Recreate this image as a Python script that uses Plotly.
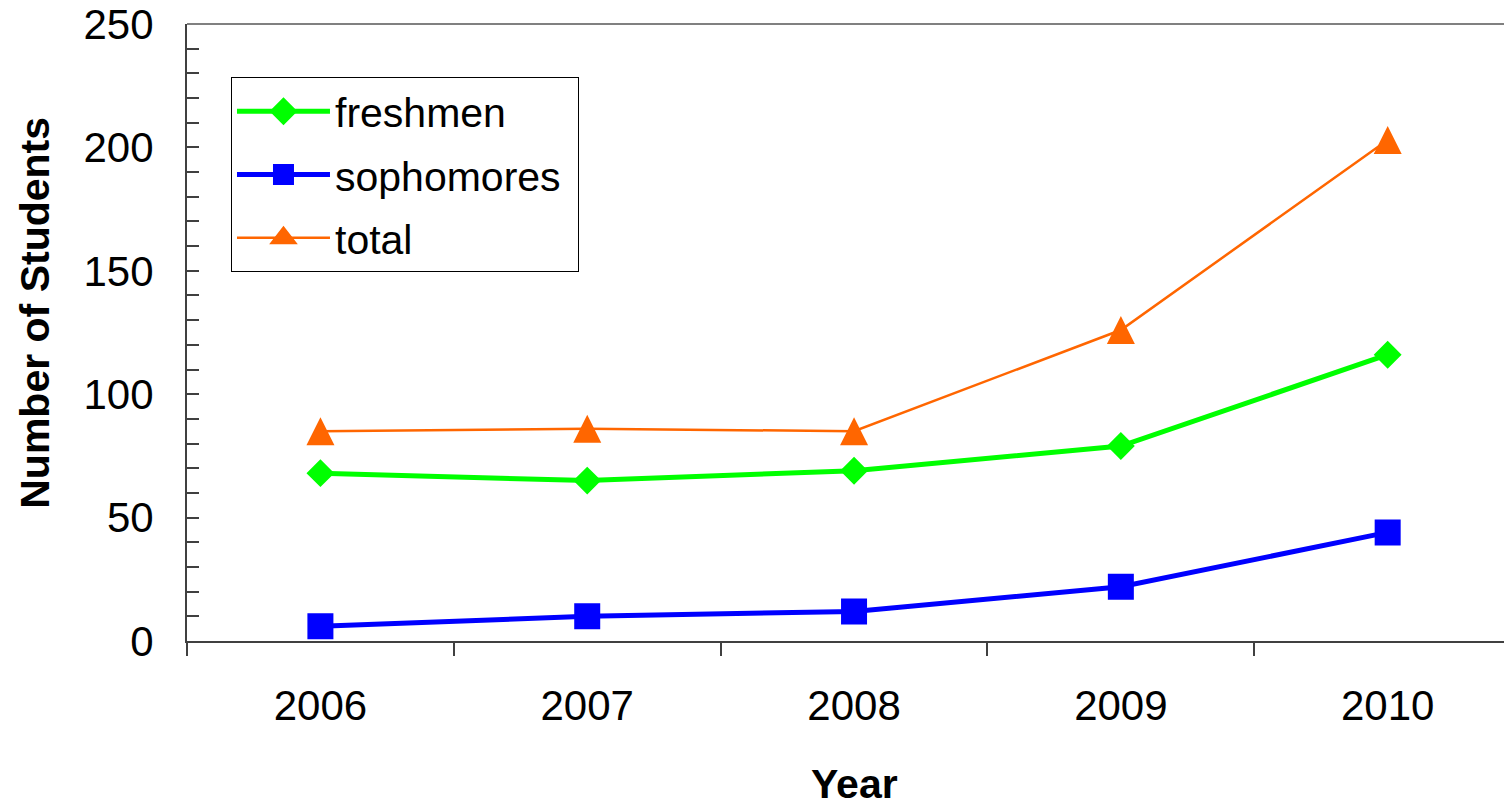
import plotly.graph_objects as go

# Enrollment by academic year
years = ["2006", "2007", "2008", "2009", "2010"]
freshmen = [68, 65, 69, 79, 116]
sophomores = [6, 10, 12, 22, 44]
total = [85, 86, 85, 126, 203]

FONT = "Arial, 'Liberation Sans', sans-serif"
GREEN, BLUE, ORANGE = "#00FF00", "#0000FF", "#FF6600"

fig = go.Figure()

# marker outlines in the fill colour keep the glyphs large in the legend too
fig.add_trace(go.Scatter(
    x=years, y=freshmen, name="freshmen", mode="lines+markers",
    line=dict(color=GREEN, width=5),
    marker=dict(symbol="diamond", size=16, color=GREEN, line=dict(color=GREEN, width=5)),
    legendgroup="f",
))
fig.add_trace(go.Scatter(
    x=years, y=sophomores, name="sophomores\u00a0", mode="lines+markers",
    line=dict(color=BLUE, width=5),
    marker=dict(symbol="square", size=21, color=BLUE, line=dict(color=BLUE, width=5)),
    legendgroup="s",
))
# upward triangles centred on the point: flipped arrow shifted by half its height
fig.add_trace(go.Scatter(
    x=years, y=total, name="total", mode="lines+markers",
    line=dict(color=ORANGE, width=2.5, backoff=0),
    marker=dict(symbol="arrow-down", angle=180, size=28, color=ORANGE, standoff=14),
    legendgroup="t", showlegend=False,
))
# legend entry for the total series (no points of its own)
fig.add_trace(go.Scatter(
    x=years, y=[None] * len(years), name="total", mode="lines+markers",
    line=dict(color=ORANGE, width=2.5),
    marker=dict(symbol="triangle-up", size=16, color=ORANGE, line=dict(color=ORANGE, width=5)),
    legendgroup="t", hoverinfo="skip",
))

# plot-area frame along the top
fig.add_shape(type="line", xref="paper", yref="paper", x0=0, x1=1, y0=1, y1=1,
              line=dict(color="#808080", width=2))

fig.add_annotation(text="<b>Number of Students</b>", textangle=-90,
                   xref="paper", yref="paper", x=0, y=0.532, xshift=-152,
                   xanchor="center", yanchor="middle", showarrow=False,
                   font=dict(family=FONT, size=41, color="black"))
fig.add_annotation(text="<b>Year</b>", xref="paper", yref="paper", x=0.5065, y=-0.2318,
                   xanchor="center", yanchor="middle", showarrow=False,
                   font=dict(family=FONT, size=41, color="black"))

fig.update_layout(
    width=1504, height=808,
    margin=dict(l=187, r=0, t=24, b=167),
    paper_bgcolor="white", plot_bgcolor="white",
    font=dict(family=FONT, size=42, color="black"),
    showlegend=True,
    legend=dict(
        x=0.0334, y=0.914, xanchor="left", yanchor="top",
        xref="paper", yref="paper",
        bgcolor="white", bordercolor="black", borderwidth=1,
        font=dict(family=FONT, size=41, color="black"),
        itemwidth=93, tracegroupgap=7,
    ),
    xaxis=dict(
        type="category", range=[-0.5, 4.436],
        showline=True, linecolor="#404040", linewidth=2,
        ticks="outside", ticklen=13, tickcolor="#404040", tickwidth=1.5,
        tickson="boundaries", showgrid=False, zeroline=False,
        ticklabelstandoff=27,
        tickfont=dict(family=FONT, size=42, color="black"),
    ),
    yaxis=dict(
        range=[0, 250], dtick=50, tick0=0,
        showline=True, linecolor="#404040", linewidth=2,
        ticks="inside", ticklen=12, tickcolor="#404040", tickwidth=1.5,
        minor=dict(dtick=10, ticks="inside", ticklen=12, tickcolor="#404040", tickwidth=1.5),
        showgrid=False, zeroline=False,
        ticklabelstandoff=23,
        tickfont=dict(family=FONT, size=42, color="black"),
    ),
)

fig.write_html("out.html")
